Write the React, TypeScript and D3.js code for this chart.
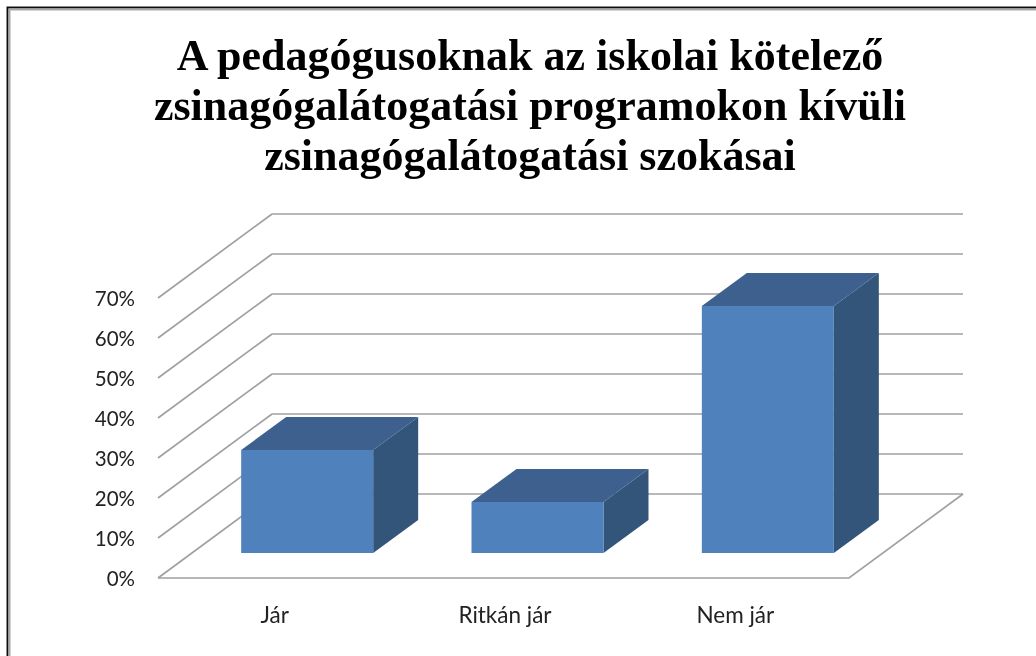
import React from "react";
import * as d3 from "d3";

const titleLines = [
  "A pedagógusoknak az iskolai kötelező",
  "zsinagógalátogatási programokon kívüli",
  "zsinagógalátogatási szokásai",
];
const categories = ["Jár", "Ritkán jár", "Nem jár"];
const values = [25.75, 12.75, 61.75];
const ticks = [0, 10, 20, 30, 40, 50, 60, 70];

const W = 1036;
const H = 656;
const left = 158;
const right = 849;
const floorY = 578;
const topY = 298;
const wallDx = 114;
const wallDy = 84;
const barDx = 45;
const barDy = 33;
const barInsetX = 34;
const barInsetY = 25;

const y = d3.scaleLinear().domain([0, 70]).range([floorY, topY]);
const x = d3.scaleBand<string>().domain(categories).range([left, right]).padding(0);
const barWidth = 132;
const grid = "#a0a0a0";

export default function App() {
  return (
    <svg
      width={W}
      height={H}
      viewBox={`0 0 ${W} ${H}`}
      style={{ position: "fixed", left: 0, top: 0, display: "block", background: "#fff" }}
    >
      <defs>
        <filter id="soft" x="-5%" y="-5%" width="110%" height="110%">
          <feGaussianBlur stdDeviation="0.45" />
        </filter>
      </defs>
      <g filter="url(#soft)">
        <path d={`M7.5 ${H + 10} V7.5 H${W + 10}`} fill="none" stroke="#111" strokeWidth={2} />
        <path d={`M9.5 ${H + 10} V9.5 H${W + 10}`} fill="none" stroke="#a8a8a8" strokeWidth={2} />

        {titleLines.map((t, i) => (
          <text
            key={t}
            x={530}
            y={70 + i * 50}
            textAnchor="middle"
            fontFamily="'Liberation Serif', serif"
            fontWeight="bold"
            fontSize={44}
            fill="#000"
          >
            {t}
          </text>
        ))}

        {ticks.map((t) => (
          <g key={t} fill="none" stroke={grid} strokeWidth={1.7}>
            <line x1={left} y1={y(t)} x2={left + wallDx} y2={y(t) - wallDy} />
            <line x1={left + wallDx} y1={y(t) - wallDy} x2={right + wallDx} y2={y(t) - wallDy} />
          </g>
        ))}
        <path
          d={`M${left} ${floorY} H${right} L${right + wallDx} ${floorY - wallDy}`}
          fill="none"
          stroke={grid}
          strokeWidth={1.7}
        />

        {ticks.map((t) => (
          <text
            key={t}
            x={135}
            y={y(t) + 8}
            textAnchor="end"
            fontFamily="Lato, sans-serif"
            fontSize={20.5}
            fill="#222"
          >
            {t}%
          </text>
        ))}

        {categories.map((c, i) => {
          const band = x(c)! + x.bandwidth() / 2;
          const x0 = band + barInsetX - barWidth / 2;
          const x1 = x0 + barWidth;
          const base = floorY - barInsetY;
          const top = base - (floorY - y(values[i]));
          return (
            <g key={c}>
              <path
                d={`M${x1} ${top} L${x1 + barDx} ${top - barDy} V${base - barDy} L${x1} ${base} Z`}
                fill="#325479"
              />
              <path
                d={`M${x0} ${top} L${x0 + barDx} ${top - barDy} H${x1 + barDx} L${x1} ${top} Z`}
                fill="#3c618e"
              />
              <rect x={x0} y={top} width={barWidth} height={base - top} fill="#4f81bd" />
              <text
                x={band + 1.5}
                y={623}
                textAnchor="middle"
                fontFamily="Lato, sans-serif"
                fontSize={22.5}
                fill="#222"
              >
                {c}
              </text>
            </g>
          );
        })}
      </g>
    </svg>
  );
}
